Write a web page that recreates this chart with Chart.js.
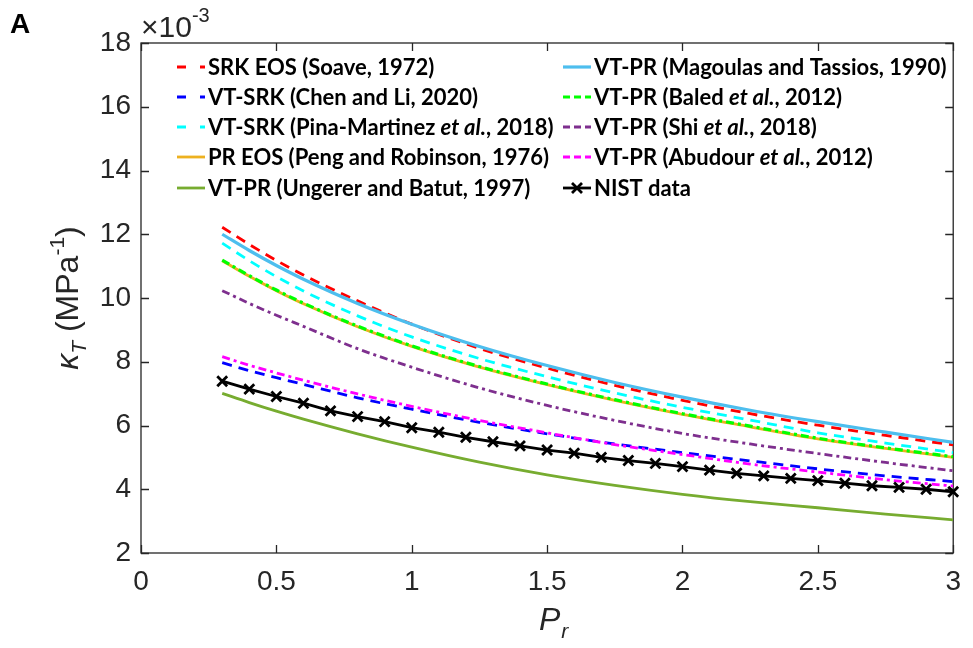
<!DOCTYPE html>
<html>
<head>
<meta charset="utf-8">
<title>Isothermal compressibility vs reduced pressure</title>
<script src="https://cdn.jsdelivr.net/npm/chart.js@4.4.0/dist/chart.umd.min.js"></script>
<style>
  html, body { margin: 0; padding: 0; background: #fff; }
  #wrap { width: 973px; height: 648px; }
</style>
</head>
<body>
<div id="wrap"><canvas id="kappaChart" width="973" height="648"></canvas></div>
<script>
// reduced pressure grid used for the EOS model curves
const prModel = [0.3, 0.4, 0.5, 0.6, 0.8, 1.0, 1.25, 1.5, 1.75, 2.0, 2.25, 2.5, 2.75, 3.0];
// kappa_T in units of 1e-3 MPa^-1
const srkSoave     = [12.22, 11.68, 11.18, 10.72, 9.91, 9.18, 8.42, 7.80, 7.26, 6.79, 6.37, 6.01, 5.69, 5.39];
const vtSrkChen    = [7.97, 7.72, 7.50, 7.29, 6.87, 6.51, 6.10, 5.74, 5.42, 5.15, 4.89, 4.64, 4.42, 4.24];
const vtSrkPina    = [11.72, 11.17, 10.67, 10.22, 9.44, 8.78, 8.10, 7.53, 7.02, 6.57, 6.17, 5.77, 5.45, 5.15];
const prPeng       = [11.17, 10.68, 10.23, 9.82, 9.10, 8.48, 7.83, 7.28, 6.79, 6.35, 5.96, 5.58, 5.28, 5.00];
const vtPrUngerer  = [7.01, 6.72, 6.45, 6.20, 5.74, 5.32, 4.85, 4.45, 4.12, 3.84, 3.61, 3.42, 3.22, 3.04];
const vtPrMagoulas = [12.00, 11.49, 11.02, 10.59, 9.83, 9.18, 8.48, 7.88, 7.35, 6.89, 6.48, 6.12, 5.79, 5.47];
const vtPrBaled    = [11.19, 10.70, 10.25, 9.84, 9.12, 8.50, 7.85, 7.30, 6.81, 6.37, 5.98, 5.60, 5.30, 5.02];
const vtPrShi      = [10.23, 9.83, 9.46, 9.11, 8.41, 7.83, 7.18, 6.63, 6.16, 5.75, 5.42, 5.12, 4.84, 4.58];
const vtPrAbudour  = [8.16, 7.89, 7.65, 7.42, 6.99, 6.60, 6.16, 5.77, 5.40, 5.09, 4.79, 4.54, 4.30, 4.10];

// NIST reference points
const prNist = [0.3, 0.4, 0.5, 0.6, 0.7, 0.8, 0.9, 1.0, 1.1, 1.2, 1.3, 1.4, 1.5, 1.6,
                1.7, 1.8, 1.9, 2.0, 2.1, 2.2, 2.3, 2.4, 2.5, 2.6, 2.7, 2.8, 2.9, 3.0];
const nistData = [7.39, 7.14, 6.91, 6.70, 6.46, 6.28, 6.12, 5.93, 5.79, 5.63, 5.49, 5.36, 5.23, 5.13,
                  5.00, 4.90, 4.81, 4.71, 4.60, 4.50, 4.42, 4.34, 4.27, 4.19, 4.11, 4.06, 4.00, 3.92];

const xTicks = [0, 0.5, 1, 1.5, 2, 2.5, 3];
const yTicks = [2, 4, 6, 8, 10, 12, 14, 16, 18];

const ink = '#262626';
const DASH = [10, 7];
const DASHDOT = [8, 4, 3, 4];

function pts(xs, ys) {
  return xs.map((x, i) => ({ x: x, y: ys[i] }));
}

// label text: *...* marks italic runs
const series = [
  { label: 'SRK EOS (Soave, 1972)', ys: srkSoave, color: '#FF0000', dash: DASH, kind: 'dash', w: 2.8 },
  { label: 'VT-SRK (Chen and Li, 2020)', ys: vtSrkChen, color: '#0000FF', dash: DASH, kind: 'dash', w: 2.8 },
  { label: 'VT-SRK (Pina-Martinez *et al.*, 2018)', ys: vtSrkPina, color: '#00FFFF', dash: DASH, kind: 'dash', w: 2.8 },
  { label: 'PR EOS (Peng and Robinson, 1976)', ys: prPeng, color: '#EDB120', dash: [], kind: 'solid', w: 2.8 },
  { label: 'VT-PR (Ungerer and Batut, 1997)', ys: vtPrUngerer, color: '#77AC30', dash: [], kind: 'solid', w: 2.8 },
  { label: 'VT-PR (Magoulas and Tassios, 1990)', ys: vtPrMagoulas, color: '#4DBEEE', dash: [], kind: 'solid', w: 3.2 },
  { label: 'VT-PR (Baled *et al.*, 2012)', ys: vtPrBaled, color: '#00FF00', dash: DASHDOT, kind: 'dashdot', w: 3.2 },
  { label: 'VT-PR (Shi *et al.*, 2018)', ys: vtPrShi, color: '#7E2F8E', dash: DASHDOT, kind: 'dashdot', w: 2.8 },
  { label: 'VT-PR (Abudour *et al.*, 2012)', ys: vtPrAbudour, color: '#FF00FF', dash: DASHDOT, kind: 'dashdot', w: 2.8 }
];

const datasets = series.map((s, i) => ({
  label: s.label,
  data: pts(prModel, s.ys),
  borderColor: s.color,
  backgroundColor: s.color,
  borderWidth: s.w,
  borderDash: s.dash,
  pointRadius: 0,
  fill: false,
  cubicInterpolationMode: 'monotone',
  kind: s.kind,
  order: 20 - i
}));

datasets.push({
  label: 'NIST data',
  data: pts(prNist, nistData),
  borderColor: '#000000',
  backgroundColor: '#000000',
  borderWidth: 2.8,
  pointStyle: 'crossRot',
  pointRadius: 7,
  pointBorderWidth: 2.8,
  fill: false,
  kind: 'marker',
  clip: 10,
  order: 1
});

function parseRuns(text) {
  return text.split('*').map((t, i) => [t, i % 2 === 1]).filter(r => r[0].length);
}

const boxPlugin = {
  id: 'boxPlugin',
  beforeDatasetsDraw(chart) {
    const ctx = chart.ctx;
    const a = chart.chartArea;
    const xs = chart.scales.x, ys = chart.scales.y;
    ctx.save();
    ctx.strokeStyle = ink;
    ctx.lineWidth = 1.3;
    ctx.setLineDash([]);
    ctx.strokeRect(a.left, a.top, a.right - a.left, a.bottom - a.top);
    ctx.beginPath();
    xTicks.forEach(v => {
      const px = Math.round(xs.getPixelForValue(v)) + 0.5;
      ctx.moveTo(px, a.bottom); ctx.lineTo(px, a.bottom - 8);
      ctx.moveTo(px, a.top); ctx.lineTo(px, a.top + 8);
    });
    yTicks.forEach(v => {
      const py = Math.round(ys.getPixelForValue(v)) + 0.5;
      ctx.moveTo(a.left, py); ctx.lineTo(a.left + 8, py);
      ctx.moveTo(a.right, py); ctx.lineTo(a.right - 8, py);
    });
    ctx.stroke();
    ctx.restore();
  },
  afterDraw(chart) {
    const ctx = chart.ctx;
    const a = chart.chartArea;
    ctx.save();
    ctx.fillStyle = '#000';
    ctx.textBaseline = 'alphabetic';

    // panel letter
    ctx.font = 'bold 28px "Liberation Sans"';
    ctx.fillText('A', 10, 33);

    // exponent multiplier above the y axis
    ctx.fillStyle = ink;
    ctx.font = '30px "Liberation Sans"';
    ctx.fillText('\u00d710', a.left, 37);
    const mw = ctx.measureText('\u00d710').width;
    ctx.font = '20px "Liberation Sans"';
    ctx.fillText('-3', a.left + mw, 22);

    // x axis title: P_r
    ctx.font = 'italic 32px "Liberation Sans"';
    const pW = ctx.measureText('P').width;
    ctx.font = 'italic 21px "Liberation Sans"';
    const rW = ctx.measureText('r').width;
    const xc = (a.left + a.right) / 2 + 6;
    let x0 = xc - (pW + rW) / 2;
    ctx.font = 'italic 32px "Liberation Sans"';
    ctx.fillText('P', x0, 630);
    ctx.font = 'italic 21px "Liberation Sans"';
    ctx.fillText('r', x0 + pW + 1, 638);

    // y axis title: kappa_T (MPa^-1)
    const runs = [
      ['\u03ba', 'italic 32px "Liberation Sans"', 0],
      ['T', 'italic 21px "Liberation Sans"', 8],
      [' (MPa', '32px "Liberation Sans"', 0],
      ['-1', '21px "Liberation Sans"', -14],
      [')', '32px "Liberation Sans"', 0]
    ];
    let tw = 0;
    runs.forEach(r => { ctx.font = r[1]; tw += ctx.measureText(r[0]).width; });
    ctx.translate(78, (a.top + a.bottom) / 2);
    ctx.rotate(-Math.PI / 2);
    let cx = -tw / 2;
    runs.forEach(r => {
      ctx.font = r[1];
      ctx.fillText(r[0], cx, r[2]);
      cx += ctx.measureText(r[0]).width;
    });
    ctx.restore();

    // legend, two columns
    ctx.save();
    const family = 'Lato';
    const size = 22;
    const rowY = [67, 97, 127, 157, 188];
    const cols = [{ lx: 177, tx: 208 }, { lx: 563, tx: 594 }];
    chart.data.datasets.forEach((ds, i) => {
      const col = cols[Math.floor(i / 5)];
      const y = rowY[i % 5];
      ctx.strokeStyle = ds.borderColor;
      ctx.lineWidth = ds.borderWidth;
      if (ds.kind === 'dash') ctx.setLineDash([9, 14]);
      else if (ds.kind === 'dashdot') ctx.setLineDash([7, 4]);
      else ctx.setLineDash([]);
      ctx.beginPath();
      ctx.moveTo(col.lx, y); ctx.lineTo(col.lx + 28, y);
      ctx.stroke();
      if (ds.kind === 'marker') {
        ctx.setLineDash([]);
        const mx = col.lx + 14, r = 5;
        ctx.beginPath();
        ctx.moveTo(mx - r, y - r); ctx.lineTo(mx + r, y + r);
        ctx.moveTo(mx - r, y + r); ctx.lineTo(mx + r, y - r);
        ctx.stroke();
      }
      ctx.fillStyle = '#000';
      ctx.textBaseline = 'middle';
      let tx = col.tx;
      parseRuns(ds.label).forEach(r => {
        ctx.font = (r[1] ? 'italic ' : '') + 'bold ' + size + 'px ' + family;
        ctx.fillText(r[0], tx, y + 1);
        tx += ctx.measureText(r[0]).width;
      });
    });
    ctx.restore();
  }
};

const config = {
  type: 'line',
  data: { datasets: datasets },
  options: {
    responsive: false,
    animation: false,
    devicePixelRatio: 1,
    layout: { padding: { top: 43, right: 11, left: 0, bottom: 0 } },
    plugins: {
      legend: { display: false },
      tooltip: { enabled: false }
    },
    scales: {
      x: {
        type: 'linear',
        min: 0,
        max: 3,
        afterBuildTicks: s => { s.ticks = xTicks.map(v => ({ value: v })); },
        afterFit: s => { s.height = 95; },
        grid: { display: false, drawTicks: false },
        border: { display: false },
        ticks: {
          color: ink,
          padding: 12,
          maxRotation: 0,
          font: { family: '"Liberation Sans"', size: 28 },
          callback: v => String(v)
        }
      },
      y: {
        type: 'linear',
        min: 2,
        max: 18,
        afterBuildTicks: s => { s.ticks = yTicks.map(v => ({ value: v })); },
        afterFit: s => { s.width = 141; },
        grid: { display: false, drawTicks: false },
        border: { display: false },
        ticks: {
          color: ink,
          padding: 10,
          font: { family: '"Liberation Sans"', size: 28 },
          callback: v => String(v)
        }
      }
    }
  },
  plugins: [boxPlugin]
};

const kappaChart = new Chart(document.getElementById('kappaChart'), config);
</script>
</body>
</html>
